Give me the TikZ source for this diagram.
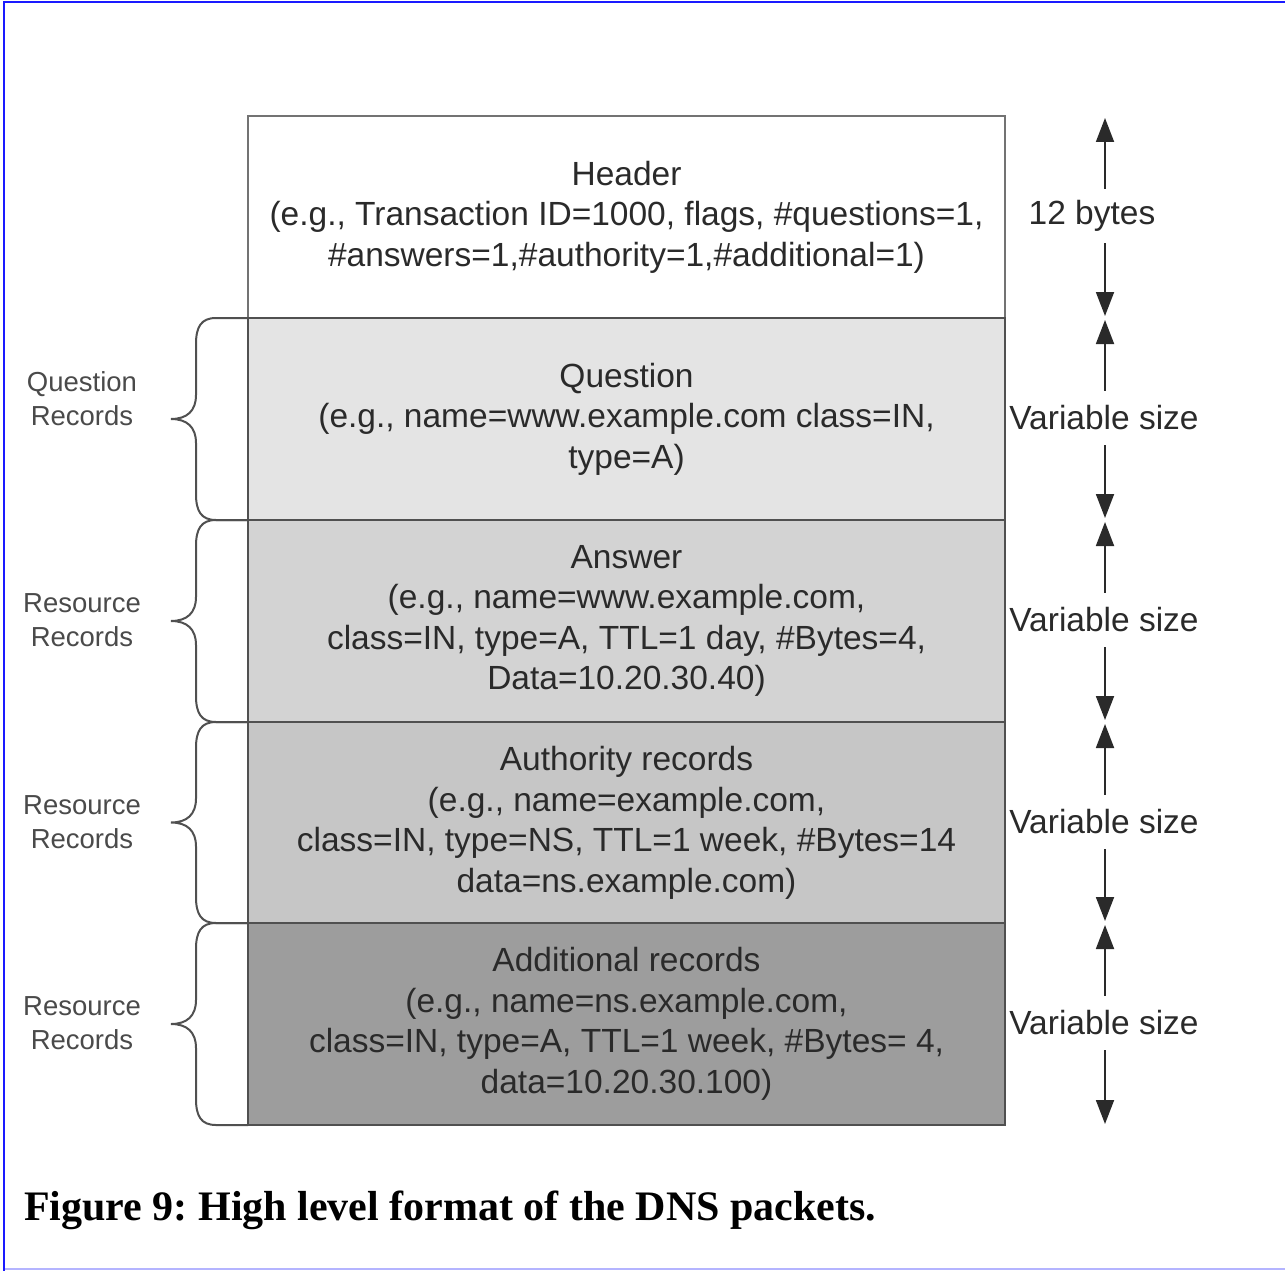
\documentclass[tikz,border=0pt]{standalone}
\usepackage{fontspec}
\setmainfont{Liberation Sans}
\newfontfamily\capfont{Liberation Serif}
\usetikzlibrary{arrows.meta}
\definecolor{frameblue}{HTML}{1A1AFF}
\definecolor{framelight}{HTML}{B4B4FF}
\definecolor{boxgray}{HTML}{505050}
\definecolor{txt}{HTML}{2A2A2A}
\definecolor{fillq}{HTML}{E4E4E4}
\definecolor{filla}{HTML}{D3D3D3}
\definecolor{fillau}{HTML}{C6C6C6}
\definecolor{filladd}{HTML}{9D9D9D}
\frenchspacing
\begin{document}
\begin{tikzpicture}[x=1pt,y=-1pt,
  pbox/.style={draw=boxgray, line width=2pt, minimum width=757pt, minimum height=202pt,
    inner sep=0pt, align=center, text=txt, font=\fontsize{33.5}{40.5}\selectfont},
  sidelbl/.style={align=center, text=txt!85, inner sep=0pt, font=\fontsize{27.5}{34}\selectfont},
  sizelbl/.style={text=txt, inner sep=0pt, minimum height=54pt, font=\fontsize{33.5}{40}\selectfont},
  dimarrow/.style={draw=txt, line width=1.8pt, -{Triangle[length=24pt,width=18pt]}},
  bracestyle/.style={draw=boxgray, line width=2pt}]
\useasboundingbox (0,0) rectangle (1285,1271);
% frame
\draw[framelight, line width=2pt] (4,1269) -- (1285,1269);
\draw[frameblue, line width=2.5pt] (4,1271) -- (4,2) -- (1285,2);
% braces
\foreach \yt/\yb in {318/520, 520/722, 722/923, 923/1125}{
  \pgfmathsetmacro{\ym}{(\yt+\yb)/2}
  \draw[bracestyle] (248,\yt) -- (216,\yt) .. controls (201,\yt) and (196,\yt+9) .. (196,\yt+26)
    -- (196,\ym-24) .. controls (196,\ym-8) and (187,\ym) .. (171,\ym)
    .. controls (187,\ym) and (196,\ym+8) .. (196,\ym+24)
    -- (196,\yb-26) .. controls (196,\yb-9) and (201,\yb) .. (216,\yb) -- (248,\yb);
}
% boxes
\node[pbox, fill=white, draw=boxgray!80] (hdr) at (626.5,217) {Header\\(e.g., Transaction ID=1000, flags, \#questions=1,\\\#answers=1,\#authority=1,\#additional=1)};
\node[pbox, fill=fillq] (qst) at (626.5,419) {Question\\(e.g., name=www.example.com class=IN,\\type=A)};
\node[pbox, fill=filla] (ans) at (626.5,621) {Answer\\(e.g., name=www.example.com,\\class=IN, type=A, TTL=1 day, \#Bytes=4,\\Data=10.20.30.40)};
\node[pbox, fill=fillau] (auth) at (626.5,823) {Authority records\\(e.g., name=example.com,\\class=IN, type=NS, TTL=1 week, \#Bytes=14\\data=ns.example.com)};
\node[pbox, fill=filladd] (add) at (626.5,1024) {Additional records\\(e.g., name=ns.example.com,\\class=IN, type=A, TTL=1 week, \#Bytes= 4,\\data=10.20.30.100)};
% side labels
\node[sidelbl] (lq) at (82,399) {Question\\Records};
\node[sidelbl] (la) at (82,620) {Resource\\Records};
\node[sidelbl] (lau) at (82,822) {Resource\\Records};
\node[sidelbl] (ladd) at (82,1023) {Resource\\Records};
% size arrows
\coordinate (t0) at (1105,118);
\coordinate (b0) at (1105,316);
\coordinate (t1) at (1105,320);
\coordinate (b1) at (1105,518);
\coordinate (t2) at (1105,522);
\coordinate (b2) at (1105,720);
\coordinate (t3) at (1105,724);
\coordinate (b3) at (1105,921);
\coordinate (t4) at (1105,925);
\coordinate (b4) at (1105,1124);
\node[sizelbl] (s0) at (1092,216) {12 bytes};
\node[sizelbl] (s1) at (1104,418) {Variable size};
\node[sizelbl] (s2) at (1104,620) {Variable size};
\node[sizelbl] (s3) at (1104,822) {Variable size};
\node[sizelbl] (s4) at (1104,1023) {Variable size};
\foreach \i in {0,...,4}{
  \draw[dimarrow] (s\i.north -| t\i) -- (t\i);
  \draw[dimarrow] (s\i.south -| b\i) -- (b\i);
}
% caption
\node[anchor=base west, inner sep=0pt, text=black, font=\capfont\bfseries\fontsize{42}{48}\selectfont] (cap) at (24,1220) {Figure 9: High level format of the DNS packets.};
\end{tikzpicture}
\end{document}
